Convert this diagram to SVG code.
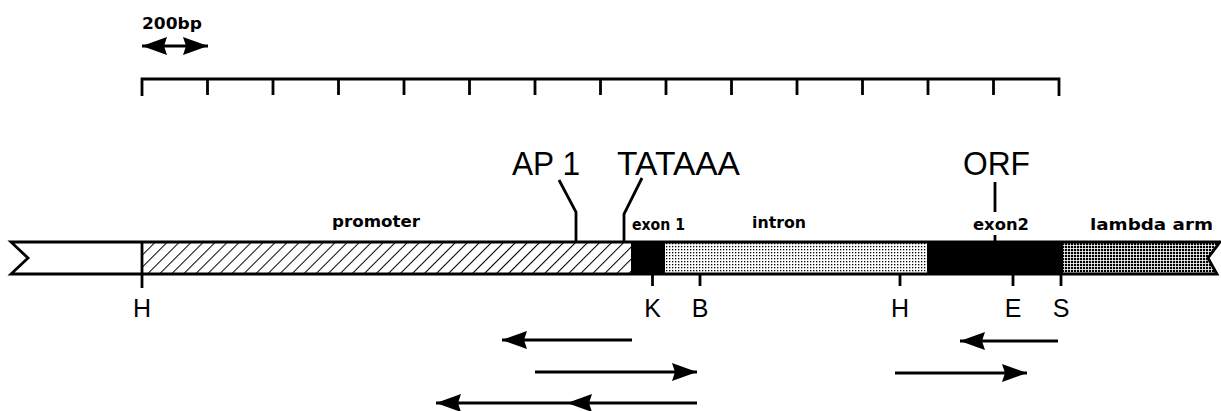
<svg xmlns="http://www.w3.org/2000/svg" width="1221" height="411" viewBox="0 0 1221 411">
<style>
.ln{stroke:#000;stroke-width:2.8;fill:none}
.ar{stroke:#000;stroke-width:3.2;fill:none}
.big{font-family:"Liberation Sans",Arial,sans-serif;font-size:34px;fill:#000}
.site{font-family:"Liberation Sans",Arial,sans-serif;font-size:25px;fill:#000;text-anchor:middle}
.lab{font-family:"DejaVu Sans","Liberation Sans",sans-serif;font-weight:bold;font-size:15px;fill:#000}
</style>
<defs>
<pattern id="hatch" width="8.5" height="8.5" patternUnits="userSpaceOnUse" patternTransform="rotate(45)">
<rect width="8.5" height="8.5" fill="#fff"/>
<line x1="0" y1="0" x2="0" y2="8.5" stroke="#000" stroke-width="2"/>
</pattern>
<pattern id="dots" width="3" height="3" patternUnits="userSpaceOnUse">
<rect width="3" height="3" fill="#fff"/>
<rect width="1.3" height="1.3" fill="#000"/>
</pattern>
<pattern id="dense" width="3" height="3" patternUnits="userSpaceOnUse">
<rect width="3" height="3" fill="#fff"/>
<rect width="2.2" height="2.2" fill="#000"/>
</pattern>
<marker id="ah" markerUnits="userSpaceOnUse" viewBox="0 0 26 18" markerWidth="26" markerHeight="18" refX="25" refY="9" orient="auto-start-reverse">
<path d="M0,0 L25,9 L0,18 L3,9 z" fill="#000"/>
</marker>
</defs>

<g id="scale">
<text class="lab" x="142" y="29" font-size="14" textLength="60" lengthAdjust="spacingAndGlyphs">200bp</text>
<line class="ar" x1="142" y1="46" x2="208" y2="46" marker-start="url(#ah)" marker-end="url(#ah)"/>
<path class="ln" d="M142,96 V79 H1059 V96 M207.5,79 V95 M273,79 V95 M338.5,79 V95 M404,79 V95 M469.5,79 V95 M535,79 V95 M600.5,79 V95 M666,79 V95 M731.5,79 V95 M797,79 V95 M862.5,79 V95 M928,79 V95 M993.5,79 V95"/>
</g>

<g id="bar">
<path d="M11,242 H142 V274 H11 L28,258 Z" fill="#fff"/>
<rect id="promoter" x="142" y="242" width="489" height="32" fill="url(#hatch)"/>
<rect id="exon1" x="631" y="242" width="34" height="32" fill="#000"/>
<rect id="intron" x="665" y="242" width="262" height="32" fill="url(#dots)"/>
<rect id="exon2" x="927" y="242" width="136" height="32" fill="#000"/>
<path id="lambda" d="M1063,242 H1220 L1208,258 L1217,274 H1063 Z" fill="url(#dense)"/>
<path class="ln" d="M11,242 H1220 L1208,258 L1217,274 H11 L28,258 Z"/>
<line class="ln" x1="142" y1="242" x2="142" y2="288"/>
</g>

<g id="labels">
<text class="lab" x="332" y="227" textLength="88" lengthAdjust="spacingAndGlyphs">promoter</text>
<text class="lab" x="632" y="230" textLength="53" lengthAdjust="spacingAndGlyphs">exon 1</text>
<text class="lab" x="752" y="228" textLength="54" lengthAdjust="spacingAndGlyphs">intron</text>
<text class="lab" x="973" y="230" textLength="56" lengthAdjust="spacingAndGlyphs">exon2</text>
<text class="lab" x="1090" y="230" textLength="123" lengthAdjust="spacingAndGlyphs">lambda arm</text>
</g>

<g id="elements">
<text class="big" x="512" y="175" textLength="68" lengthAdjust="spacingAndGlyphs">AP 1</text>
<text class="big" x="617" y="175" textLength="123" lengthAdjust="spacingAndGlyphs">TATAAA</text>
<text class="big" x="963" y="175" textLength="67" lengthAdjust="spacingAndGlyphs">ORF</text>
<polyline class="ln" points="559,180 576,212 576,242"/>
<polyline class="ln" points="642,178 624,214 624,242"/>
<line class="ln" x1="995" y1="182" x2="995" y2="212"/>
<line class="ln" x1="995" y1="235" x2="995" y2="242"/>
</g>

<g id="sites">
<path class="ln" d="M652.5,274 V286 M700,274 V286 M900,274 V286 M1013,274 V286 M1061,274 V286"/>
<text class="site" x="142" y="317">H</text>
<text class="site" x="652.5" y="317">K</text>
<text class="site" x="700" y="317">B</text>
<text class="site" x="900" y="317">H</text>
<text class="site" x="1013" y="317">E</text>
<text class="site" x="1061" y="317">S</text>
</g>

<g id="connectors">
<line class="ar" x1="632" y1="340" x2="502" y2="340" marker-end="url(#ah)"/>
<line class="ar" x1="535" y1="372" x2="697" y2="372" marker-end="url(#ah)"/>
<line class="ar" x1="697" y1="403" x2="567" y2="403" marker-end="url(#ah)"/>
<line class="ar" x1="567" y1="403" x2="436" y2="403" marker-end="url(#ah)"/>
<line class="ar" x1="1058" y1="341" x2="960" y2="341" marker-end="url(#ah)"/>
<line class="ar" x1="895" y1="373" x2="1027" y2="373" marker-end="url(#ah)"/>
</g>
</svg>
